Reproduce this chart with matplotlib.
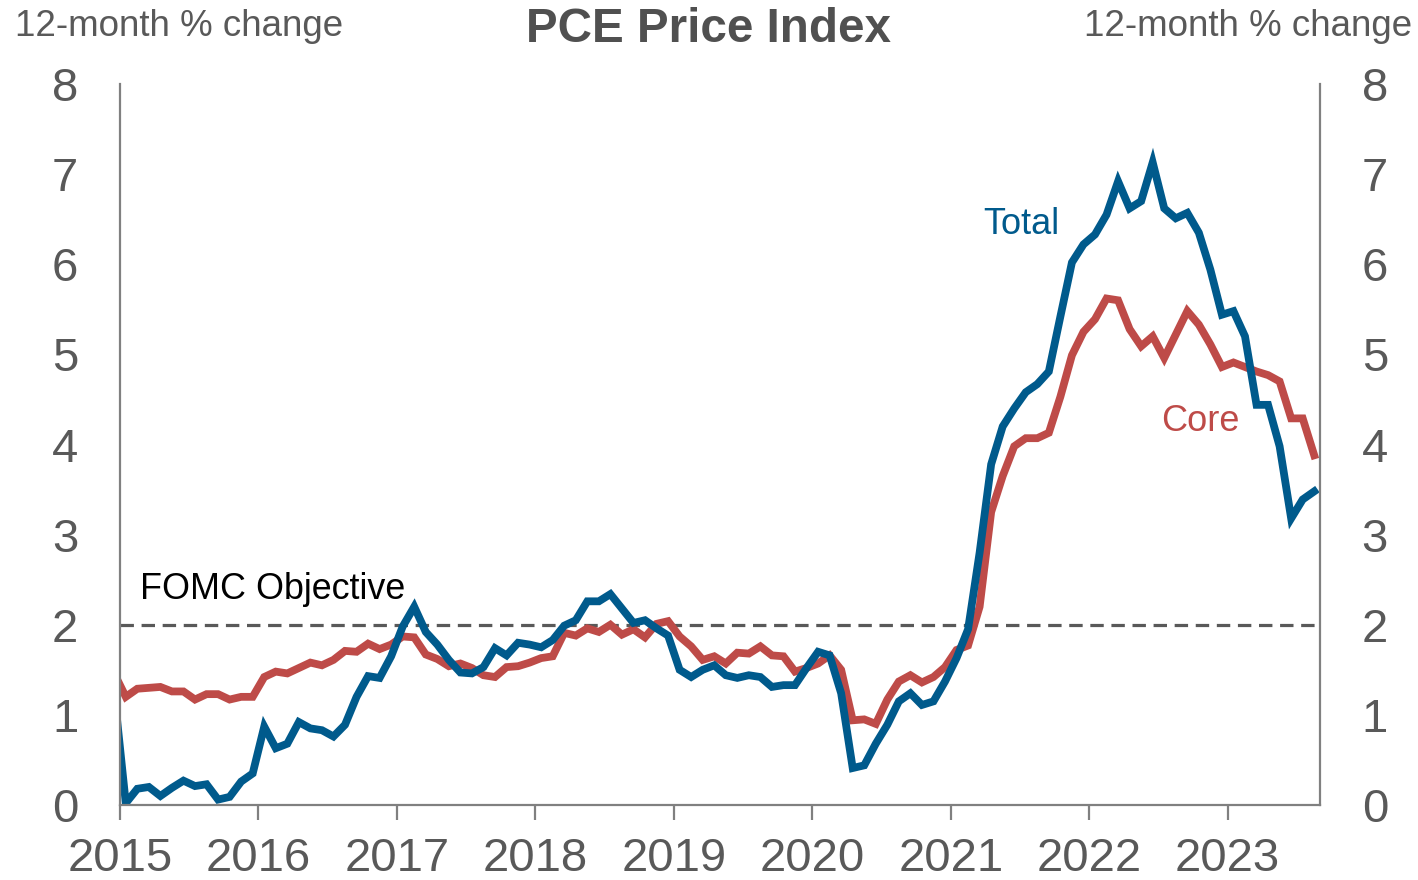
import matplotlib
matplotlib.use("Agg")
import matplotlib.pyplot as plt
import numpy as np

plt.rcParams['font.family'] = ['Liberation Sans', 'DejaVu Sans']

# monthly 12-month % change, Dec 2014 .. Aug 2023
start_year = 2014
start_month = 12
total = [1.25,
         0.02, 0.18, 0.20, 0.10, 0.19, 0.27, 0.21, 0.23, 0.06, 0.09, 0.26, 0.35,
         0.87, 0.63, 0.68, 0.92, 0.85, 0.83, 0.76, 0.89, 1.20, 1.43, 1.41, 1.65,
         1.98, 2.20, 1.92, 1.78, 1.61, 1.47, 1.46, 1.53, 1.74, 1.66, 1.80, 1.78,
         1.75, 1.83, 1.99, 2.05, 2.26, 2.26, 2.34, 2.18, 2.02, 2.05, 1.96, 1.88,
         1.50, 1.42, 1.50, 1.55, 1.44, 1.41, 1.44, 1.42, 1.31, 1.33, 1.33, 1.52,
         1.70, 1.66, 1.24, 0.41, 0.44, 0.68, 0.89, 1.15, 1.24, 1.11, 1.15, 1.37,
         1.63, 1.95, 2.80, 3.78, 4.20, 4.40, 4.58, 4.67, 4.81, 5.42, 6.02, 6.22,
         6.33, 6.55, 6.92, 6.62, 6.70, 7.13, 6.62, 6.51, 6.57, 6.35, 5.94, 5.44,
         5.48, 5.20, 4.44, 4.44, 3.98, 3.18, 3.39, 3.48]
core = [1.46,
        1.20, 1.29, 1.30, 1.31, 1.26, 1.26, 1.17, 1.23, 1.23, 1.17, 1.20, 1.20,
        1.42, 1.48, 1.46, 1.52, 1.58, 1.55, 1.61, 1.71, 1.70, 1.79, 1.73, 1.78,
        1.87, 1.86, 1.67, 1.62, 1.54, 1.57, 1.52, 1.44, 1.42, 1.53, 1.54, 1.58,
        1.63, 1.65, 1.91, 1.88, 1.96, 1.92, 2.00, 1.89, 1.95, 1.86, 2.01, 2.04,
        1.87, 1.76, 1.61, 1.65, 1.57, 1.69, 1.68, 1.76, 1.66, 1.65, 1.48, 1.52,
        1.57, 1.66, 1.50, 0.94, 0.95, 0.90, 1.17, 1.37, 1.44, 1.36, 1.42, 1.53,
        1.72, 1.77, 2.20, 3.25, 3.65, 3.98, 4.07, 4.07, 4.13, 4.53, 4.99, 5.25,
        5.39, 5.62, 5.60, 5.28, 5.09, 5.20, 4.96, 5.22, 5.48, 5.33, 5.11, 4.86,
        4.91, 4.86, 4.81, 4.77, 4.70, 4.29, 4.29, 3.88]
years = list(range(2015, 2024))
objective = 2.0

# months plotted at mid-month
n = len(total)
x = start_year + (start_month - 1 + np.arange(n) + 0.5) / 12

grey = '#595959'
blue = '#005A8C'
red = '#BE4B48'

fig = plt.figure(figsize=(14.18, 8.80), dpi=100)
ax = fig.add_axes([120 / 1418, 1 - 805 / 880, 1200 / 1418, 721 / 880])

ax.axhline(objective, color=grey, linewidth=2.3, dashes=(4.2, 2.4))
ax.plot(x, core, color=red, linewidth=5.6, solid_joinstyle='miter')
ax.plot(x, total, color=blue, linewidth=5.6, solid_joinstyle='miter')

ax.set_xlim(2015, 2023 + 8 / 12)
ax.set_ylim(0, 8)
ax.set_xticks(years)
ax.set_xticklabels([str(y) for y in years])
ax.set_yticks(range(0, 9))

for s in ['left', 'right', 'bottom']:
    ax.spines[s].set_color('#808080')
    ax.spines[s].set_linewidth(1.6)
ax.spines['top'].set_visible(False)

ax.tick_params(axis='x', direction='out', length=11, width=1.6, color='#808080',
               labelsize=34, labelcolor=grey, pad=12)
ax.tick_params(axis='y', length=0, labelsize=34, labelcolor=grey, pad=30,
               labelleft=True, labelright=True)

ax.text(2015 + 20 / 138.5, 2.39, 'FOMC Objective', fontsize=25.8, color='black',
        ha='left', va='center')
ax.text(2021.51, 6.44, 'Total', fontsize=26, color=blue, ha='center', va='center')
ax.text(2022.80, 4.26, 'Core', fontsize=26, color=red, ha='center', va='center')

fig.text(708 / 1418, 1 - 30 / 880, 'PCE Price Index', fontsize=34.3, fontweight='bold',
         color='#505050', ha='center', va='center')
fig.text(15 / 1418, 1 - 27 / 880, '12-month % change', fontsize=26.5, color=grey,
         ha='left', va='center')
fig.text(1412 / 1418, 1 - 27 / 880, '12-month % change', fontsize=26.5, color=grey,
         ha='right', va='center')

fig.savefig('out.png', dpi=100)
